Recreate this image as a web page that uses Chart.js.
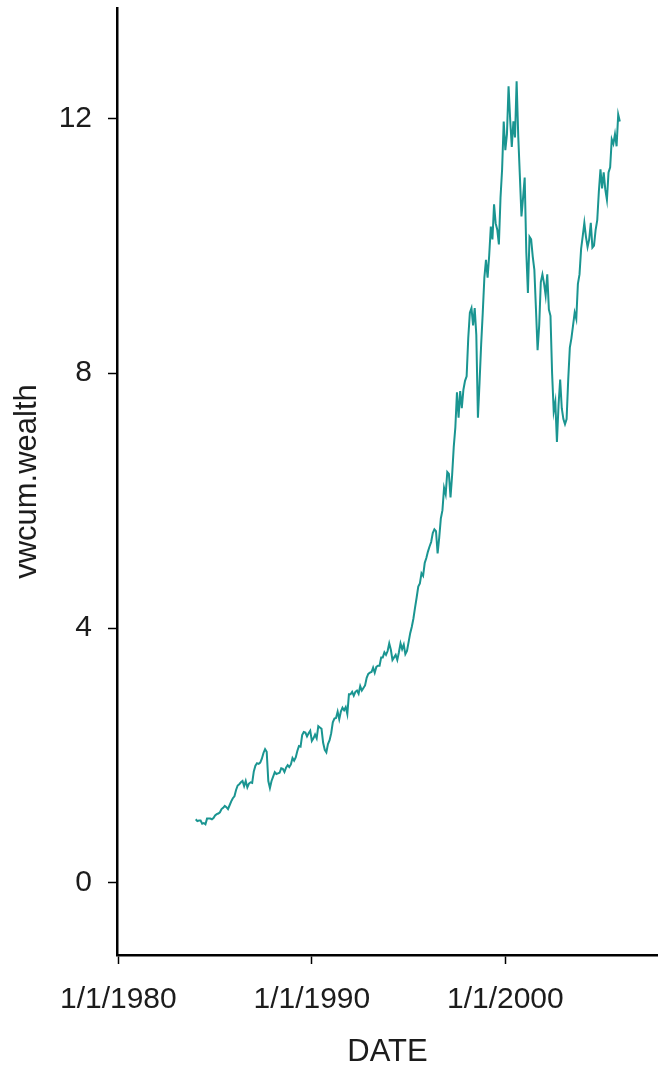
<!DOCTYPE html>
<html><head><meta charset="utf-8">
<script src="https://cdn.jsdelivr.net/npm/chart.js@4.4.0/dist/chart.umd.min.js"></script>
<style>html,body{margin:0;padding:0;background:#fff;}#wrap{width:658px;height:1068px;}</style>
</head><body><div id="wrap"><canvas id="c" width="658" height="1068"></canvas></div>
<script>
// ---- data (monthly, Jan..Dec) ----
const xTickYears = [1980, 1990, 2000];
const yTickValues = [0, 4, 8, 12];
const startYear = 1984;
const w1984 = [1.00, 0.97, 0.98, 0.98, 0.93, 0.94, 0.92, 1.01, 1.01, 1.01, 1.00, 1.02];
const w1985 = [1.06, 1.08, 1.09, 1.11, 1.16, 1.18, 1.21, 1.19, 1.16, 1.22, 1.28, 1.33];
const w1986 = [1.36, 1.46, 1.53, 1.55, 1.58, 1.60, 1.52, 1.60, 1.50, 1.56, 1.58, 1.57];
const w1987 = [1.75, 1.84, 1.88, 1.87, 1.89, 1.95, 2.04, 2.10, 2.06, 1.60, 1.49, 1.60];
const w1988 = [1.67, 1.74, 1.71, 1.72, 1.73, 1.80, 1.79, 1.74, 1.81, 1.85, 1.82, 1.86];
const w1989 = [1.96, 1.92, 1.97, 2.07, 2.15, 2.14, 2.32, 2.37, 2.36, 2.30, 2.35, 2.39];
const w1990 = [2.23, 2.27, 2.33, 2.27, 2.46, 2.44, 2.42, 2.20, 2.09, 2.05, 2.18, 2.24];
const w1991 = [2.35, 2.52, 2.58, 2.59, 2.69, 2.57, 2.69, 2.75, 2.71, 2.76, 2.65, 2.96];
const w1992 = [2.96, 3.00, 2.94, 3.00, 3.02, 2.97, 3.09, 3.02, 3.06, 3.10, 3.22, 3.28];
const w1993 = [3.30, 3.31, 3.38, 3.30, 3.39, 3.41, 3.41, 3.54, 3.54, 3.62, 3.58, 3.64];
const w1994 = [3.76, 3.66, 3.50, 3.54, 3.58, 3.50, 3.62, 3.76, 3.67, 3.74, 3.59, 3.64];
const w1995 = [3.78, 3.92, 4.02, 4.15, 4.32, 4.48, 4.65, 4.70, 4.86, 4.82, 5.02, 5.10];
const w1996 = [5.20, 5.28, 5.35, 5.49, 5.55, 5.52, 5.17, 5.42, 5.72, 5.85, 6.20, 6.10];
const w1997 = [6.45, 6.42, 6.05, 6.40, 6.84, 7.15, 7.70, 7.30, 7.72, 7.45, 7.74, 7.88];
const w1998 = [7.95, 8.55, 8.95, 9.02, 8.75, 9.02, 8.60, 7.30, 7.85, 8.45, 8.95, 9.50];
const w1999 = [9.78, 9.50, 9.85, 10.30, 10.10, 10.65, 10.35, 10.25, 10.02, 10.75, 11.20, 11.95];
const w2000 = [11.50, 11.75, 12.50, 11.98, 11.55, 11.95, 11.70, 12.58, 11.72, 11.10, 10.46, 10.75];
const w2001 = [11.07, 9.90, 9.26, 10.14, 10.10, 9.83, 9.62, 9.00, 8.36, 8.75, 9.43, 9.55];
const w2002 = [9.41, 9.22, 9.55, 9.00, 8.90, 8.00, 7.40, 7.55, 6.92, 7.50, 7.90, 7.45];
const w2003 = [7.28, 7.20, 7.28, 7.90, 8.40, 8.55, 8.75, 8.95, 8.85, 9.40, 9.55, 9.95];
const w2004 = [10.15, 10.36, 10.14, 9.98, 10.10, 10.36, 9.97, 10.00, 10.25, 10.40, 10.85, 11.20];
const w2005 = [10.90, 11.15, 10.88, 10.72, 11.15, 11.23, 11.67, 11.60, 11.75, 11.56, 12.06, 11.95];
const wealthYears = [w1984, w1985, w1986, w1987, w1988, w1989, w1990, w1991, w1992, w1993, w1994,
  w1995, w1996, w1997, w1998, w1999, w2000, w2001, w2002, w2003, w2004, w2005];

const points = [];
wealthYears.forEach((arr, i) => arr.forEach((v, m) => points.push({x: startYear + i + m / 12, y: v})));

Chart.defaults.font.family = "'Liberation Sans', Arial, sans-serif";
const txt = '#1c1c1c';

new Chart(document.getElementById('c'), {
  type: 'line',
  data: { datasets: [{
    data: points, borderColor: '#1a9591', borderWidth: 2, pointRadius: 0,
    tension: 0, fill: false
  }]},
  options: {
    responsive: false, animation: false, devicePixelRatio: 1,
    layout: { padding: { top: 8, right: 0, left: 0, bottom: 0 } },
    plugins: { legend: { display: false }, tooltip: { enabled: false } },
    scales: {
      x: {
        type: 'linear', position: 'bottom', min: 1979.93, max: 2007.89,
        afterBuildTicks: s => { s.ticks = xTickYears.map(v => ({ value: v })); },
        afterFit: s => { s.height = 113; s.paddingLeft = 0; s.paddingRight = 0; },
        grid: { drawOnChartArea: false, drawTicks: true, tickLength: 9, tickWidth: 1.5, tickColor: '#000' },
        border: { display: true, color: '#000', width: 2.5 },
        ticks: { callback: v => '1/1/' + v, font: { size: 30 }, color: txt, padding: 18, maxRotation: 0, autoSkip: false },
        title: { display: true, text: 'DATE', font: { size: 31 }, color: txt, padding: { top: 0, bottom: -3 } }
      },
      y: {
        type: 'linear', position: 'left', min: -1.13, max: 13.73,
        afterBuildTicks: s => { s.ticks = yTickValues.map(v => ({ value: v })); },
        afterFit: s => { s.width = 117; s.paddingTop = 0; s.paddingBottom = 0; },
        grid: { drawOnChartArea: false, drawTicks: true, tickLength: 9, tickWidth: 1.5, tickColor: '#000' },
        border: { display: true, color: '#000', width: 2.5 },
        ticks: { font: { size: 30 }, color: txt, padding: 16 },
        title: { display: true, text: 'vwcum.wealth', font: { size: 31 }, color: txt, padding: { top: 9, bottom: 0 } }
      }
    }
  }
});
</script></body></html>
